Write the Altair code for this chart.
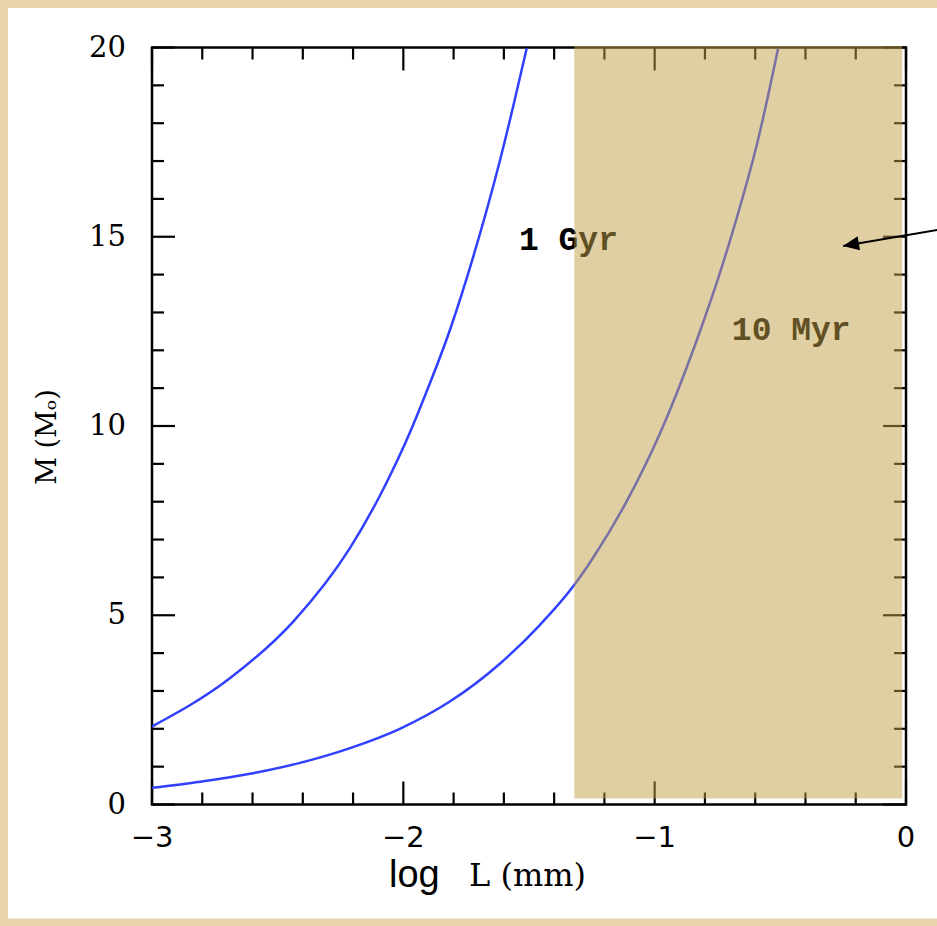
import altair as alt
import pandas as pd

# Mass against log size for the two ages
gyr_logL = [-3.0, -2.689, -2.437, -2.212, -2.080, -1.973, -1.920, -1.814, -1.722, -1.629, -1.563, -1.509]
gyr_mass = [2.06, 3.34, 4.84, 6.78, 8.33, 9.84, 10.70, 12.55, 14.47, 16.67, 18.44, 19.98]

myr_logL = [-3.0, -2.808, -2.610, -2.411, -2.212, -2.014, -1.815, -1.616, -1.457, -1.321,
            -1.245, -1.112, -0.979, -0.847, -0.714, -0.582, -0.509]
myr_mass = [0.44, 0.60, 0.81, 1.10, 1.49, 2.00, 2.72, 3.72, 4.74, 5.79,
            6.52, 8.00, 9.80, 12.00, 14.60, 17.75, 19.97]

# Tick positions and labels of the boxed frame
x_major_ticks = [-3, -2, -1, 0]
x_tick_labels = ["\u22123", "\u22122", "\u22121", "0"]
x_minor_ticks = [-2.8, -2.6, -2.4, -2.2, -1.8, -1.6, -1.4, -1.2, -0.8, -0.6, -0.4, -0.2]
y_major_ticks = [0, 5, 10, 15, 20]
y_tick_labels = ["0", "5", "10", "15", "20"]
y_minor_ticks = [1, 2, 3, 4, 6, 7, 8, 9, 11, 12, 13, 14, 16, 17, 18, 19]

# Shaded band
shade_logL = [-1.32, -0.015]
shade_mass = [0.16, 20.04]

# Curve labels
curve_labels = ["1 Gyr", "10 Myr"]
label_logL = [-1.540, -0.693]
label_mass = [14.65, 12.27]

# Arrow pointing into the band (tail, tip)
arrow_logL = [0.213, -0.2505]
arrow_mass = [15.28, 14.756]

x_title_parts = ["log", "L (mm)"]
y_title = "M (M\u2092)"

W, H = 754, 757
xs = alt.Scale(domain=[-3, 0], nice=False, zero=False)
ys = alt.Scale(domain=[0, 20], nice=False, zero=False)

BLUE = "#3040ff"
MAJOR, MINOR = 23, 12

curves = pd.concat([
    pd.DataFrame({"logL": gyr_logL, "mass": gyr_mass, "age": "1 Gyr"}),
    pd.DataFrame({"logL": myr_logL, "mass": myr_mass, "age": "10 Myr"}),
])

# white sheet behind the figure
sheet = alt.Chart(pd.DataFrame({"k": [0]})).mark_rect(color="white").encode(
    x=alt.value(-144), x2=alt.value(800), y=alt.value(-39.5), y2=alt.value(871)
)

frame_df = pd.DataFrame({"x0": [-3], "x1": [0], "y0": [0], "y1": [20]})
frame = alt.Chart(frame_df).mark_rect(fillOpacity=0, stroke="black", strokeWidth=2.5).encode(
    x=alt.X("x0:Q", scale=xs, axis=None), x2="x1:Q",
    y=alt.Y("y0:Q", scale=ys, axis=None), y2="y1:Q",
)


def xticks(values, length, at, sign):
    return alt.Chart(pd.DataFrame({"v": values})).mark_tick(
        orient="vertical", size=length, thickness=2.2, color="black", opacity=1,
        yOffset=sign * length / 2,
    ).encode(x=alt.X("v:Q", scale=xs, axis=None),
             y=alt.YDatum(at, type="quantitative", axis=None))


def yticks(values, length, at, sign):
    return alt.Chart(pd.DataFrame({"v": values})).mark_tick(
        orient="horizontal", size=length, thickness=2.2, color="black", opacity=1,
        xOffset=sign * length / 2,
    ).encode(y=alt.Y("v:Q", scale=ys, axis=None),
             x=alt.XDatum(at, type="quantitative", axis=None))


ticks = [
    xticks(x_major_ticks, MAJOR, 0, -1), xticks(x_minor_ticks, MINOR, 0, -1),
    xticks(x_major_ticks, MAJOR, 20, 1), xticks(x_minor_ticks, MINOR, 20, 1),
    yticks(y_major_ticks, MAJOR, -3, 1), yticks(y_minor_ticks, MINOR, -3, 1),
    yticks(y_major_ticks, MAJOR, 0, -1), yticks(y_minor_ticks, MINOR, 0, -1),
]

# tick numbers along the bottom and left edges
x_numbers = alt.Chart(pd.DataFrame({"v": x_major_ticks, "t": x_tick_labels})).mark_text(
    font="DejaVu Sans", fontSize=29, color="black", align="center", baseline="middle", dy=33
).encode(x=alt.X("v:Q", scale=xs, axis=None),
         y=alt.YDatum(0, type="quantitative", axis=None), text="t:N")

y_numbers = alt.Chart(pd.DataFrame({"v": y_major_ticks, "t": y_tick_labels})).mark_text(
    font="DejaVu Serif", fontSize=29, color="black", align="right", baseline="middle", dx=-26
).encode(y=alt.Y("v:Q", scale=ys, axis=None),
         x=alt.XDatum(-3, type="quantitative", axis=None), text="t:N")

lines = alt.Chart(curves).mark_line(color=BLUE, strokeWidth=2.5, interpolate="monotone").encode(
    x=alt.X("logL:Q", scale=xs, axis=None),
    y=alt.Y("mass:Q", scale=ys, axis=None),
    detail="age:N",
)

labels = alt.Chart(pd.DataFrame({"t": curve_labels, "x": label_logL, "y": label_mass})).mark_text(
    font="Liberation Mono", fontSize=33, fontWeight="bold", color="black",
    align="left", baseline="alphabetic"
).encode(x=alt.X("x:Q", scale=xs, axis=None), y=alt.Y("y:Q", scale=ys, axis=None), text="t:N")

shade_df = pd.DataFrame({"x0": [shade_logL[0]], "x1": [shade_logL[1]],
                         "y0": [shade_mass[0]], "y1": [shade_mass[1]]})
shade = alt.Chart(shade_df).mark_rect(color="rgb(193,159,71)", opacity=0.5).encode(
    x=alt.X("x0:Q", scale=xs, axis=None), x2="x1:Q",
    y=alt.Y("y0:Q", scale=ys, axis=None), y2="y1:Q",
)

arrow_df = pd.DataFrame({"x": arrow_logL, "y": arrow_mass})
arrow_line = alt.Chart(arrow_df).mark_line(color="black", strokeWidth=2).encode(
    x=alt.X("x:Q", scale=xs, axis=None), y=alt.Y("y:Q", scale=ys, axis=None)
)
arrow_head = alt.Chart(arrow_df.iloc[[1]]).mark_point(
    shape="M0,0L1,-0.44L1,0.44Z", size=1024, angle=350.3,
    filled=True, color="black", opacity=1, strokeWidth=0,
).encode(x=alt.X("x:Q", scale=xs, axis=None), y=alt.Y("y:Q", scale=ys, axis=None))

title_log = alt.Chart(pd.DataFrame({"t": [x_title_parts[0]]})).mark_text(
    font="Liberation Sans", fontSize=38, color="black", align="left", baseline="alphabetic"
).encode(text="t:N", x=alt.value(237), y=alt.value(839))

title_len = alt.Chart(pd.DataFrame({"t": [x_title_parts[1]]})).mark_text(
    font="DejaVu Serif", fontSize=32, color="black", align="center", baseline="alphabetic"
).encode(text="t:N", x=alt.value(375.5), y=alt.value(838.5))

title_mass = alt.Chart(pd.DataFrame({"t": [y_title]})).mark_text(
    font="DejaVu Serif", fontSize=27, color="black", align="center", baseline="middle", angle=270
).encode(text="t:N", x=alt.value(-104), y=alt.value(389.5))

chart = alt.layer(
    sheet, frame, *ticks, x_numbers, y_numbers, lines, labels, shade, arrow_line, arrow_head,
    title_log, title_len, title_mass,
).properties(
    width=W, height=H,
    autosize=alt.AutoSizeParams(type="none"),
    padding={"left": 152, "top": 47.5, "right": 31, "bottom": 121.5},
    background="#EAD4AB",
).configure_view(stroke=None)

chart.save("out.html", embed_options={"renderer": "svg", "actions": False})
